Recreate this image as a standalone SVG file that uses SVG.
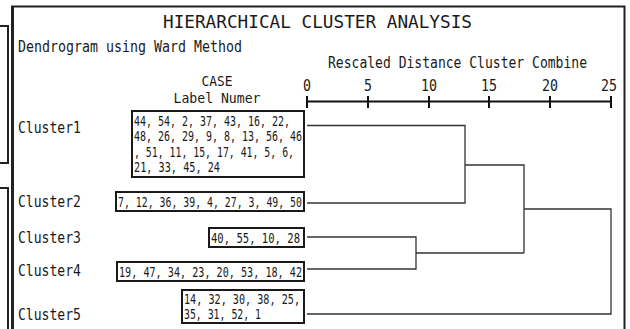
<svg xmlns="http://www.w3.org/2000/svg" width="630" height="329" viewBox="0 0 630 329">
<style>
  text { font-family: "DejaVu Sans Mono", "Liberation Mono", monospace; fill: #1a1a1a; }
  .title { font-size: 18.5px; }
  .lbl { font-size: 15px; }
  .hdr { font-size: 14.5px; }
  .num { font-size: 14.8px; }
  .box { fill: #fff; stroke: #1a1a1a; stroke-width: 2; }
  .conn { fill: none; stroke: #333; stroke-width: 1.3; }
  .axis { fill: none; stroke: #111; stroke-width: 2; }
  .frame { fill: none; stroke: #222; }
</style>
<rect x="0" y="0" width="630" height="329" fill="#fff"/>
<g id="fragments">
  <path class="frame" d="M-5 26 H8 V163 H-5" stroke-width="2"/>
  <path class="frame" d="M-5 188 H8 V335" stroke-width="2"/>
</g>
<g id="frame">
  <path class="frame" d="M12 340 V6.5 H624.5 V340" stroke-width="2"/>
  <path class="frame" d="M12.5 7 V340" stroke-width="3"/>
</g>
<g id="header">
  <text class="title" x="163" y="28" textLength="309" lengthAdjust="spacingAndGlyphs">HIERARCHICAL CLUSTER ANALYSIS</text>
  <text class="lbl" x="18" y="52" textLength="224" lengthAdjust="spacingAndGlyphs">Dendrogram using Ward Method</text>
  <text class="lbl" x="328" y="68" textLength="259" lengthAdjust="spacingAndGlyphs">Rescaled Distance Cluster Combine</text>
  <text class="hdr" x="217" y="86" text-anchor="middle" textLength="31" lengthAdjust="spacingAndGlyphs">CASE</text>
  <text class="hdr" x="217" y="103" text-anchor="middle" textLength="87" lengthAdjust="spacingAndGlyphs">Label Numer</text>
</g>
<g id="axis">
  <path class="axis" d="M307 101.5 H611 M307 96 V108 M368 96 V108 M429 96 V108 M489 96 V108 M550 96 V108 M611 96 V108"/>
  <g class="lbl" text-anchor="middle">
    <text x="307" y="91" textLength="8" lengthAdjust="spacingAndGlyphs">0</text>
    <text x="368" y="91" textLength="8" lengthAdjust="spacingAndGlyphs">5</text>
    <text x="429" y="91" textLength="16" lengthAdjust="spacingAndGlyphs">10</text>
    <text x="489" y="91" textLength="16" lengthAdjust="spacingAndGlyphs">15</text>
    <text x="550" y="91" textLength="16" lengthAdjust="spacingAndGlyphs">20</text>
    <text x="609" y="91" textLength="16" lengthAdjust="spacingAndGlyphs">25</text>
  </g>
</g>
<g id="cluster1">
  <text class="lbl" x="18" y="133" textLength="63" lengthAdjust="spacingAndGlyphs">Cluster1</text>
  <rect class="box" x="132" y="111" width="172" height="66"/>
  <text class="num" x="134" y="125.5" textLength="156" lengthAdjust="spacingAndGlyphs">44, 54, 2, 37, 43, 16, 22,</text>
  <text class="num" x="134" y="141" textLength="168" lengthAdjust="spacingAndGlyphs">48, 26, 29, 9, 8, 13, 56, 46</text>
  <text class="num" x="134" y="156.5" textLength="160" lengthAdjust="spacingAndGlyphs">, 51, 11, 15, 17, 41, 5, 6,</text>
  <text class="num" x="134" y="172" textLength="86" lengthAdjust="spacingAndGlyphs">21, 33, 45, 24</text>
</g>
<g id="cluster2">
  <text class="lbl" x="18" y="207" textLength="63" lengthAdjust="spacingAndGlyphs">Cluster2</text>
  <rect class="box" x="116" y="192" width="188" height="19"/>
  <text class="num" x="118" y="207" textLength="184" lengthAdjust="spacingAndGlyphs">7, 12, 36, 39, 4, 27, 3, 49, 50</text>
</g>
<g id="cluster3">
  <text class="lbl" x="18" y="243" textLength="63" lengthAdjust="spacingAndGlyphs">Cluster3</text>
  <rect class="box" x="209" y="228" width="95" height="19"/>
  <text class="num" x="211" y="243" textLength="89" lengthAdjust="spacingAndGlyphs">40, 55, 10, 28</text>
</g>
<g id="cluster4">
  <text class="lbl" x="18" y="276" textLength="63" lengthAdjust="spacingAndGlyphs">Cluster4</text>
  <rect class="box" x="117" y="262" width="187" height="19"/>
  <text class="num" x="119" y="276.5" textLength="183" lengthAdjust="spacingAndGlyphs">19, 47, 34, 23, 20, 53, 18, 42</text>
</g>
<g id="cluster5">
  <text class="lbl" x="18" y="320" textLength="63" lengthAdjust="spacingAndGlyphs">Cluster5</text>
  <rect class="box" x="182" y="290" width="122" height="33"/>
  <text class="num" x="184" y="303.5" textLength="116" lengthAdjust="spacingAndGlyphs">14, 32, 30, 38, 25,</text>
  <text class="num" x="184" y="319" textLength="77" lengthAdjust="spacingAndGlyphs">35, 31, 52, 1</text>
</g>
<g id="connectors">
  <path class="conn" d="M307 125.5 H465 V203 H307"/>
  <path class="conn" d="M465 165 H524 V253"/>
  <path class="conn" d="M307 237 H416 V269 H307"/>
  <path class="conn" d="M416 253 H524"/>
  <path class="conn" d="M524 209 H611 V314 H307"/>
</g>
</svg>
